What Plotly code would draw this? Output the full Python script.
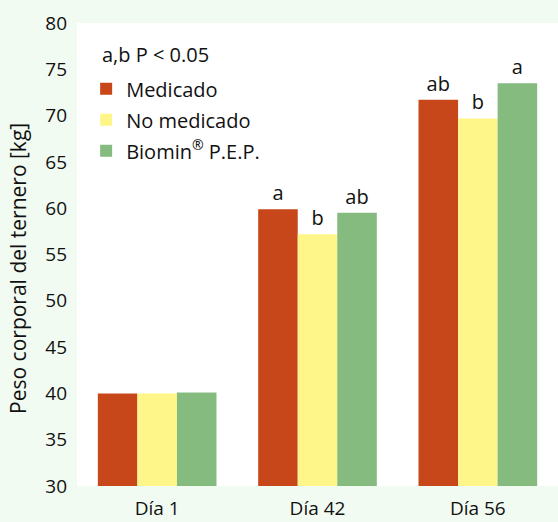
import plotly.graph_objects as go

categories = ["Día 1", "Día 42", "Día 56"]
series_names = ["Medicado", "No medicado", "Biomin<sup>®</sup> P.E.P."]
medicado = [40.0, 59.9, 71.7]
no_medicado = [40.0, 57.2, 69.7]
biomin = [40.1, 59.5, 73.5]
labels_medicado = [None, "a", "ab"]
labels_no_medicado = [None, "b", "b"]
labels_biomin = [None, "ab", "a"]
colors = ["#c8471a", "#fff68a", "#86bb80"]
y_ticks = [30, 35, 40, 45, 50, 55, 60, 65, 70, 75, 80]
y_title = "Peso corporal del ternero [kg]"

FONT = "Open Sans"
fig = go.Figure()
for i, (name, vals, labs, col) in enumerate(zip(series_names,
                                 [medicado, no_medicado, biomin],
                                 [labels_medicado, labels_no_medicado, labels_biomin],
                                 colors)):
    fig.add_trace(go.Bar(
        x=categories, y=[v - 30 for v in vals], base=30, name=name,
        legendgroup=f"g{i}",
        marker=dict(color=col, line=dict(width=0)),
        text=labs, textposition="outside", cliponaxis=False,
        textfont=dict(family=FONT, size=20, color="#111"),
        hoverinfo="skip",
    ))

fig.update_layout(
    width=558, height=522,
    margin=dict(l=77, r=0, t=23, b=36, autoexpand=False),
    paper_bgcolor="#f2fbf1", plot_bgcolor="#ffffff",
    barmode="group", bargap=0.26, bargroupgap=0,
    font=dict(family=FONT, color="#111"),
    showlegend=True,
    legend=dict(x=0.019, y=0.9, xanchor="left", yanchor="top",
                bgcolor="rgba(0,0,0,0)", font=dict(size=20, family=FONT, color="#111"),
                itemsizing="constant", tracegroupgap=2, traceorder="grouped"),
    annotations=[
        dict(text="a,b P < 0.05", x=0.047, y=0.931, xref="paper", yref="paper",
             xanchor="left", yanchor="middle", showarrow=False,
             font=dict(size=20, family=FONT, color="#111")),
        dict(text=y_title, x=-0.1227, y=0.471, xref="paper", yref="paper",
             xanchor="center", yanchor="middle", textangle=-90, showarrow=False,
             font=dict(size=21, family=FONT, color="#111")),
    ],
)
fig.update_yaxes(range=[30, 80], tickvals=y_ticks, showgrid=False, zeroline=False,
                 showline=False, ticks="", tickfont=dict(size=19, family=FONT, color="#111"),
                 automargin=False, ticklabelstandoff=9)
fig.update_xaxes(showgrid=False, showline=False, ticks="", automargin=False,
                 ticklabelstandoff=9,
                 tickfont=dict(size=19, family=FONT, color="#111"))

fig.write_html("out.html", config={"displayModeBar": False},
               post_script="document.body.style.margin='0';document.body.style.overflow='hidden';")
